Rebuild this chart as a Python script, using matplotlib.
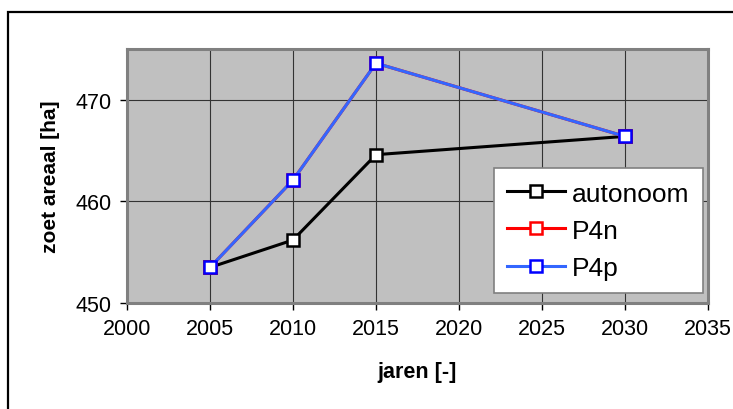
import matplotlib
matplotlib.use("Agg")
import matplotlib.pyplot as plt
from matplotlib.patches import Rectangle

plt.rcParams['font.family'] = ['Liberation Sans', 'DejaVu Sans']

years = [2005, 2010, 2015, 2030]
autonoom = [453.5, 456.2, 464.6, 466.4]
p4n = [453.5, 462.1, 473.6, 466.4]
p4p = [453.5, 462.1, 473.6, 466.4]
xticks = [2000, 2005, 2010, 2015, 2020, 2025, 2030, 2035]
yticks = [450, 460, 470]

fig = plt.figure(figsize=(7.33, 4.10), dpi=100)
fig.patch.set_facecolor('white')
# outer chart border (extends past right and bottom)
fig.patches.append(Rectangle((8/733, -0.1), 1.1, 1 - 13/410 + 0.1, transform=fig.transFigure,
                             fill=False, edgecolor='black', linewidth=1.6, zorder=0))

ax = fig.add_axes([127/733, 1 - 304/410, 581/733, 254/410])
ax.set_facecolor('#C0C0C0')
ax.set_xlim(2000, 2035)
ax.set_ylim(450, 475)
ax.set_xticks(xticks)
ax.set_yticks(yticks)
ax.grid(True, color='#333333', linewidth=0.8)
ax.set_axisbelow(True)
for s in ax.spines.values():
    s.set_color('#808080')
    s.set_linewidth(2.2)
ax.tick_params(direction='out', length=5, width=1, color='black', labelsize=15.5, pad=6)

mk = dict(marker='s', markersize=8, markerfacecolor='white', markeredgewidth=1.8)
ax.plot(years, autonoom, color='black', linewidth=2.2, markeredgecolor='black', label='autonoom', **mk)
ax.plot(years, p4n, color='red', linewidth=2.2, markeredgecolor='red', label='P4n', **mk)
ax.plot(years, p4p, color='#3366FF', linewidth=2.2, markeredgecolor='#0000FF', label='P4p', **mk)

ax.set_xlabel('jaren [-]', fontsize=15.5, fontweight='bold', labelpad=16)
ax.set_ylabel('zoet areaal [ha]', fontsize=15, fontweight='bold', labelpad=11)

leg = ax.legend(loc='lower left', bbox_to_anchor=(0.632, 0.039), fontsize=19,
                frameon=True, fancybox=False, edgecolor='#808080', facecolor='white',
                framealpha=1, borderpad=0.5, labelspacing=0.5, handlelength=2.2,
                handletextpad=0.25, borderaxespad=0)
leg.get_frame().set_linewidth(1.2)

fig.savefig('out.png', dpi=100)
